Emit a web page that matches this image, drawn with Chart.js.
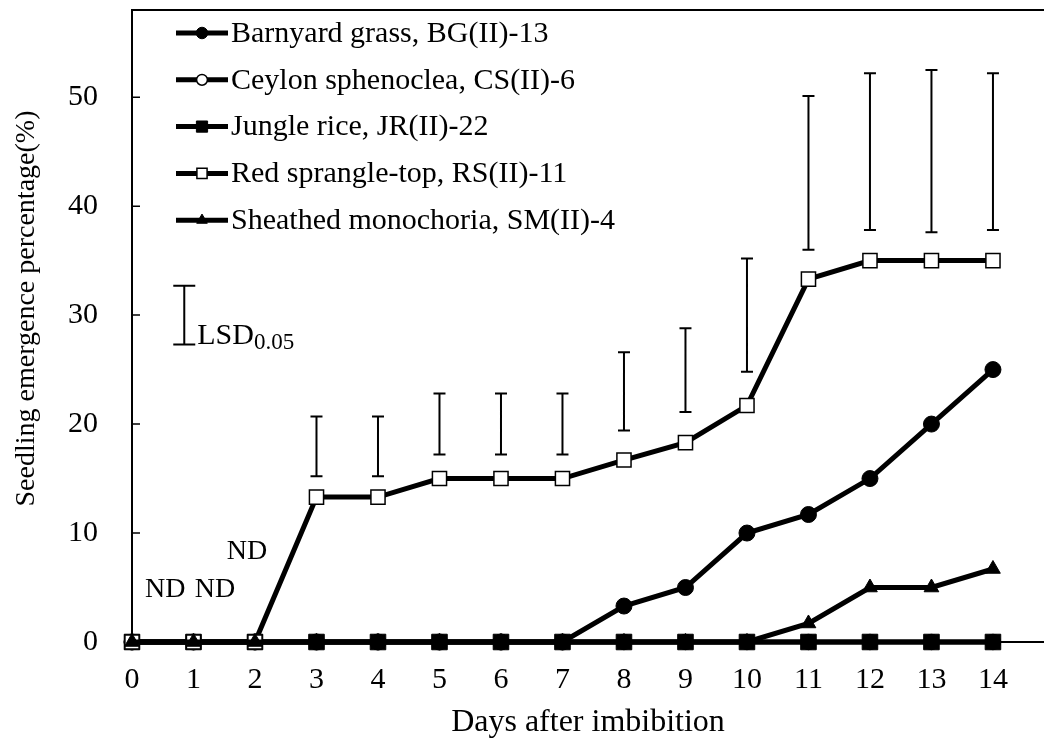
<!DOCTYPE html>
<html>
<head>
<meta charset="utf-8">
<title>Seedling emergence</title>
<script src="https://cdn.jsdelivr.net/npm/chart.js@4/dist/chart.umd.min.js"></script>
<style>
  html, body { margin: 0; padding: 0; background: #fff; }
  canvas { display: block; }
</style>
</head>
<body>
<canvas id="emergence" width="1044" height="742"></canvas>
<script>
// days after imbibition
const days = [0, 1, 2, 3, 4, 5, 6, 7, 8, 9, 10, 11, 12, 13, 14];

// emergence (%) per population
const barnyard    = [0, 0, 0, 0, 0, 0, 0, 0, 3.3, 5, 10, 11.7, 15, 20, 25];
const ceylon      = [0, 0, 0, 0, 0, 0, 0, 0, 0, 0, 0, 0, 0, 0, 0];
const jungleRice  = [0, 0, 0, 0, 0, 0, 0, 0, 0, 0, 0, 0, 0, 0, 0];
const redSprangle = [0, 0, 0, 13.3, 13.3, 15, 15, 15, 16.7, 18.3, 21.7, 33.3, 35, 35, 35];
const sheathed    = [0, 0, 0, 0, 0, 0, 0, 0, 0, 0, 0, 1.7, 5, 5, 6.7];

// LSD(0.05) bars drawn above each day
const lsdLow  = [null, null, null, 15.2, 15.2, 17.2, 17.2, 17.2, 19.4, 21.1, 24.8, 36.0, 37.8, 37.6, 37.8];
const lsdHigh = [null, null, null, 20.7, 20.7, 22.8, 22.8, 22.8, 26.6, 28.8, 35.2, 50.1, 52.2, 52.5, 52.2];

// reference LSD bar and "ND" notes (data coordinates)
const lsdRef = { day: 0.85, low: 27.3, high: 32.7 };
const ndNotes = [
  { day: 0.54, value: 4.8 },
  { day: 1.35, value: 4.8 },
  { day: 1.87, value: 8.3 }
];

const xTicks = [0, 1, 2, 3, 4, 5, 6, 7, 8, 9, 10, 11, 12, 13, 14];
const yTicks = [0, 10, 20, 30, 40, 50];

const serif = "'Liberation Serif', 'Times New Roman', serif";

function toPoints(values) {
  return days.map((d, i) => ({ x: d, y: values[i] }));
}

function series(label, values, style, fill, radius, order) {
  return {
    label: label,
    data: toPoints(values),
    borderColor: '#000',
    borderWidth: 5,
    pointStyle: style,
    pointRadius: radius,
    pointHoverRadius: radius,
    pointBackgroundColor: fill,
    pointBorderColor: '#000',
    pointBorderWidth: fill === '#fff' ? 1.5 : 1,
    tension: 0,
    clip: false,
    order: order
  };
}

// extras: frame top line, inner ticks, LSD bars, notes, legend
const extras = {
  id: 'extras',
  afterDatasetsDraw(chart) {
    const { ctx, chartArea, scales: { x, y } } = chart;
    ctx.save();
    ctx.strokeStyle = '#000';
    ctx.fillStyle = '#000';

    // top line of the frame
    ctx.lineWidth = 2;
    ctx.beginPath();
    ctx.moveTo(chartArea.left, chartArea.top);
    ctx.lineTo(chartArea.right, chartArea.top);
    ctx.stroke();

    // y tick marks pointing inward
    ctx.lineWidth = 1.5;
    ctx.beginPath();
    yTicks.forEach(v => {
      const py = y.getPixelForValue(v);
      ctx.moveTo(chartArea.left, py);
      ctx.lineTo(chartArea.left + 8, py);
    });
    ctx.stroke();

    // LSD bars
    ctx.lineWidth = 2;
    ctx.beginPath();
    days.forEach((d, i) => {
      if (lsdLow[i] == null) return;
      const px = x.getPixelForValue(d);
      const lo = y.getPixelForValue(lsdLow[i]);
      const hi = y.getPixelForValue(lsdHigh[i]);
      ctx.moveTo(px, lo); ctx.lineTo(px, hi);
      ctx.moveTo(px - 6, lo); ctx.lineTo(px + 6, lo);
      ctx.moveTo(px - 6, hi); ctx.lineTo(px + 6, hi);
    });
    // reference bar
    const rx = x.getPixelForValue(lsdRef.day);
    const rlo = y.getPixelForValue(lsdRef.low);
    const rhi = y.getPixelForValue(lsdRef.high);
    ctx.moveTo(rx, rlo); ctx.lineTo(rx, rhi);
    ctx.moveTo(rx - 11, rlo); ctx.lineTo(rx + 11, rlo);
    ctx.moveTo(rx - 11, rhi); ctx.lineTo(rx + 11, rhi);
    ctx.stroke();

    ctx.textBaseline = 'alphabetic';
    ctx.textAlign = 'left';
    ctx.font = '30px ' + serif;
    ctx.fillText('LSD', rx + 13, rlo - 1);
    const w = ctx.measureText('LSD').width;
    ctx.font = '23px ' + serif;
    ctx.fillText('0.05', rx + 13 + w, rlo + 4);

    // ND notes
    ctx.font = '28px ' + serif;
    ctx.textAlign = 'center';
    ctx.textBaseline = 'middle';
    ndNotes.forEach(n => {
      ctx.fillText('ND', x.getPixelForValue(n.day), y.getPixelForValue(n.value));
    });

    // legend: line with marker, then label (dataset order)
    const drawPoint = Chart.helpers && Chart.helpers.drawPoint;
    const x0 = chartArea.left + 44;
    const lineLen = 52;
    ctx.font = '30px ' + serif;
    ctx.textAlign = 'left';
    ctx.textBaseline = 'middle';
    chart.data.datasets.forEach((ds, i) => {
      const ry = chartArea.top + 23 + i * 46.8;
      ctx.lineWidth = 5;
      ctx.strokeStyle = '#000';
      ctx.beginPath();
      ctx.moveTo(x0, ry);
      ctx.lineTo(x0 + lineLen, ry);
      ctx.stroke();
      if (drawPoint) {
        ctx.fillStyle = ds.pointBackgroundColor;
        ctx.strokeStyle = '#000';
        ctx.lineWidth = ds.pointBorderWidth;
        drawPoint(ctx, {
          pointStyle: ds.pointStyle,
          radius: ds.pointRadius * 0.72,
          rotation: 0,
          borderWidth: ds.pointBorderWidth
        }, x0 + lineLen / 2, ry);
      }
      ctx.fillStyle = '#000';
      ctx.fillText(ds.label, x0 + lineLen + 3, ry + 1);
    });

    ctx.restore();
  }
};

new Chart(document.getElementById('emergence'), {
  type: 'line',
  data: {
    datasets: [
      series('Barnyard grass, BG(II)-13', barnyard, 'circle', '#000', 8, 5),
      series('Ceylon sphenoclea, CS(II)-6', ceylon, 'circle', '#fff', 7.5, 4),
      series('Jungle rice, JR(II)-22', jungleRice, 'rect', '#000', 11, 3),
      series('Red sprangle-top, RS(II)-11', redSprangle, 'rect', '#fff', 10, 2),
      series('Sheathed monochoria, SM(II)-4', sheathed, 'triangle', '#000', 8.5, 1)
    ]
  },
  options: {
    responsive: false,
    animation: false,
    devicePixelRatio: 1,
    layout: { autoPadding: false, padding: { top: 10, right: 0, bottom: 0, left: 0 } },
    plugins: {
      legend: { display: false },
      tooltip: { enabled: false }
    },
    scales: {
      x: {
        type: 'linear',
        min: 0,
        max: 14.83,
        afterBuildTicks: s => { s.ticks = xTicks.map(v => ({ value: v })); },
        afterFit: s => { s.height = 100; s.paddingLeft = 0; s.paddingRight = 0; },
        grid: { display: false, drawTicks: false },
        border: { display: true, color: '#000', width: 2 },
        ticks: {
          color: '#000',
          padding: 20,
          maxRotation: 0,
          autoSkip: false,
          font: { family: serif, size: 30 }
        },
        title: {
          display: true,
          text: 'Days after imbibition',
          color: '#000',
          font: { family: serif, size: 32 },
          padding: { top: 0, bottom: 0 }
        }
      },
      y: {
        min: 0,
        max: 58,
        afterBuildTicks: s => { s.ticks = yTicks.map(v => ({ value: v })); },
        afterFit: s => { s.width = 132; s.paddingTop = 0; s.paddingBottom = 0; },
        grid: { display: false, drawTicks: false },
        border: { display: true, color: '#000', width: 2 },
        ticks: {
          color: '#000',
          padding: 34,
          autoSkip: false,
          font: { family: serif, size: 30 }
        },
        title: {
          display: true,
          // leading spaces nudge the title up along the axis, as in the original
          text: '\u00A0\u00A0\u00A0\u00A0\u00A0Seedling emergence percentage(%)',
          color: '#000',
          font: { family: serif, size: 28 },
          padding: { top: 10, bottom: 0 }
        }
      }
    }
  },
  plugins: [extras]
});
</script>
</body>
</html>
